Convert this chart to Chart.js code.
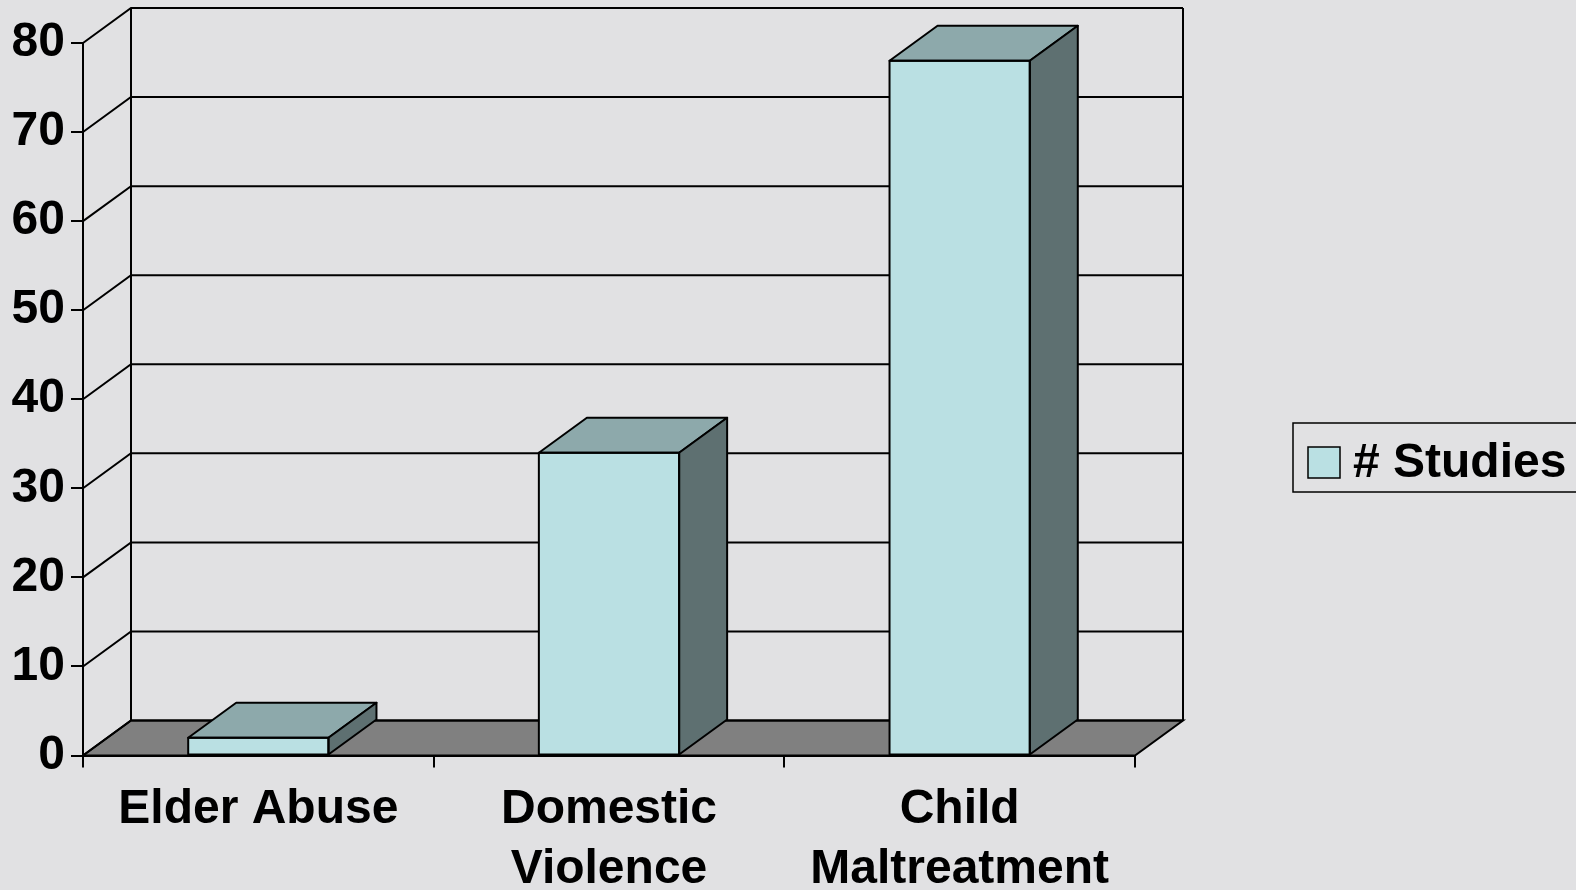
<!DOCTYPE html>
<html>
<head>
<meta charset="utf-8">
<script src="https://cdn.jsdelivr.net/npm/chart.js@4/dist/chart.umd.min.js"></script>
<style>
  html, body { margin: 0; padding: 0; background: #E1E1E3; }
  #wrap { width: 1576px; height: 890px; }
</style>
</head>
<body>
<div id="wrap"><canvas id="studiesChart"></canvas></div>
<script>
// Chart data
const categories = [['Elder Abuse'], ['Domestic', 'Violence'], ['Child', 'Maltreatment']];
const studies = [2, 34, 78];
const seriesLabel = '# Studies';
const yTicks = [0, 10, 20, 30, 40, 50, 60, 70, 80];

// 3D look
const DX = 48, DY = 35;
const FRONT = '#BAE0E3', TOP = '#8DA9AB', SIDE = '#5E7071', FLOOR = '#808080';
const FONT = { family: 'Liberation Sans', weight: 'bold', size: 48 };

function poly(ctx, pts, fill) {
  ctx.beginPath();
  ctx.moveTo(pts[0][0], pts[0][1]);
  for (let i = 1; i < pts.length; i++) ctx.lineTo(pts[i][0], pts[i][1]);
  ctx.closePath();
  if (fill) { ctx.fillStyle = fill; ctx.fill(); }
  ctx.stroke();
}

const box3d = {
  id: 'box3d',
  beforeDatasetsDraw(chart) {
    const { ctx, chartArea: a, scales: { y } } = chart;
    ctx.save();
    ctx.lineWidth = 2;
    ctx.strokeStyle = '#000';
    // floor
    poly(ctx, [[a.left, a.bottom], [a.right, a.bottom], [a.right + DX, a.bottom - DY], [a.left + DX, a.bottom - DY]], FLOOR);
    // walls: diagonal on the left, horizontal on the back
    yTicks.forEach(v => {
      const py = y.getPixelForValue(v);
      ctx.beginPath();
      ctx.moveTo(a.left, py);
      ctx.lineTo(a.left + DX, py - DY);
      ctx.lineTo(a.right + DX, py - DY);
      ctx.stroke();
    });
    ctx.beginPath();
    ctx.moveTo(a.left + DX, a.top - DY); ctx.lineTo(a.left + DX, a.bottom - DY);
    ctx.moveTo(a.right + DX, a.top - DY); ctx.lineTo(a.right + DX, a.bottom - DY);
    ctx.stroke();
    ctx.restore();
  },
  afterDatasetsDraw(chart) {
    const ctx = chart.ctx;
    ctx.save();
    ctx.lineWidth = 2;
    ctx.strokeStyle = '#000';
    ctx.lineJoin = 'round';
    chart.getDatasetMeta(0).data.forEach(bar => {
      const { x, y, base, width } = bar.getProps(['x', 'y', 'base', 'width'], true);
      const l = x - width / 2, r = x + width / 2;
      poly(ctx, [[l, y], [l + DX, y - DY], [r + DX, y - DY], [r, y]], TOP);
      poly(ctx, [[r, y], [r + DX, y - DY], [r + DX, base - DY], [r, base]], SIDE);
      poly(ctx, [[l, y], [r, y], [r, base], [l, base]], null);
    });
    ctx.restore();
  },
  afterDraw(chart) {
    // legend box
    const ctx = chart.ctx;
    const ds = chart.data.datasets[0];
    ctx.save();
    ctx.lineWidth = 1.5;
    ctx.strokeStyle = '#000';
    ctx.strokeRect(1293, 423, 320, 69);
    ctx.fillStyle = ds.backgroundColor;
    ctx.fillRect(1308, 447, 32, 31);
    ctx.strokeRect(1308, 447, 32, 31);
    ctx.fillStyle = '#000';
    ctx.font = 'bold 48px "Liberation Sans"';
    ctx.textBaseline = 'middle';
    ctx.fillText(ds.label, 1353, 464);
    ctx.restore();
  }
};

document.addEventListener('DOMContentLoaded', function() {
  const ctx = document.getElementById('studiesChart').getContext('2d');
  new Chart(ctx, {
    type: 'bar',
    data: {
      labels: categories,
      datasets: [{
        label: seriesLabel,
        data: studies,
        backgroundColor: FRONT,
        borderColor: '#000',
        borderWidth: 0,
        barPercentage: 0.4,
        categoryPercentage: 1
      }]
    },
    options: {
      responsive: true,
      maintainAspectRatio: false,
      animation: false,
      layout: { padding: { left: 0, right: 441, top: 43, bottom: 0 } },
      plugins: { legend: { display: false }, tooltip: { enabled: false } },
      scales: {
        x: {
          offset: true,
          grid: { offset: true, drawOnChartArea: false, tickLength: 12, color: '#000', lineWidth: 2 },
          border: { display: true, color: '#000', width: 2 },
          ticks: { color: '#000', font: { ...FONT, lineHeight: 1.25 }, padding: 12, maxRotation: 0, autoSkip: false },
          afterFit(s) { s.height = 134.5; }
        },
        y: {
          min: yTicks[0],
          max: yTicks[yTicks.length - 1],
          grid: { drawOnChartArea: false, tickLength: 12, color: '#000', lineWidth: 2 },
          border: { display: true, color: '#000', width: 2 },
          ticks: { stepSize: 10, color: '#000', font: FONT, padding: 6 },
          afterFit(s) { s.width = 83; }
        }
      }
    },
    plugins: [box3d]
  });
});
</script>
</body>
</html>
